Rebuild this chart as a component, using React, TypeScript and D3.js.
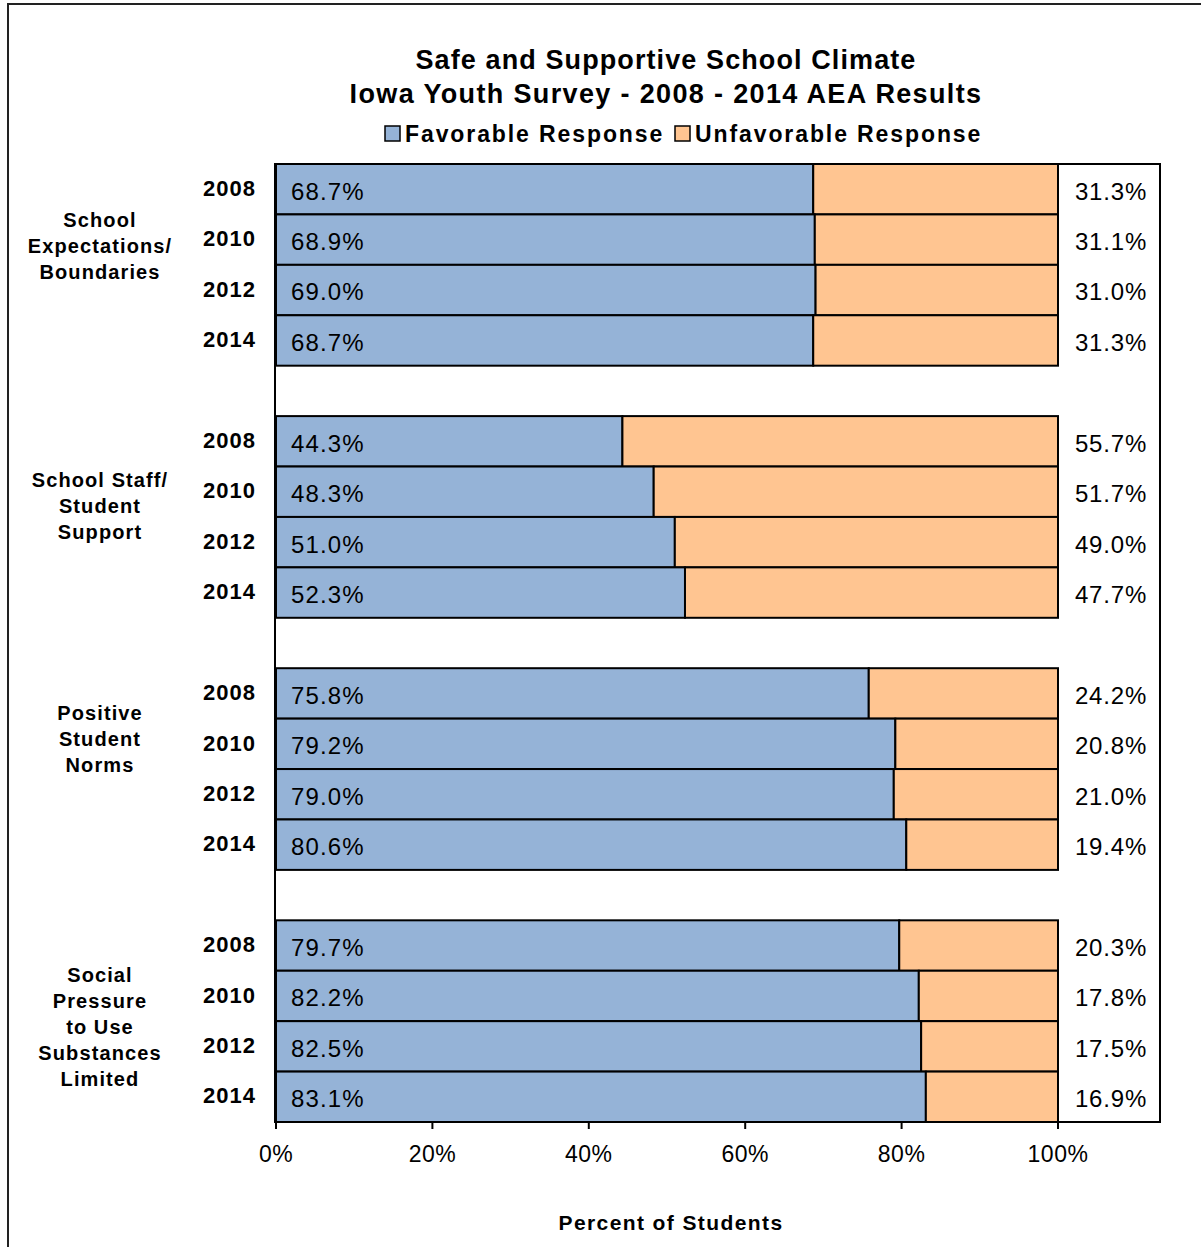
import React from "react";
import * as d3 from "d3";

const years = ["2008", "2010", "2012", "2014"];
const groupLabels = [
  ["School", "Expectations/", "Boundaries"],
  ["School Staff/", "Student", "Support"],
  ["Positive", "Student", "Norms"],
  ["Social", "Pressure", "to Use", "Substances", "Limited"],
];
const favorable = [
  [68.7, 68.9, 69.0, 68.7],
  [44.3, 48.3, 51.0, 52.3],
  [75.8, 79.2, 79.0, 80.6],
  [79.7, 82.2, 82.5, 83.1],
];
const unfavorable = [
  [31.3, 31.1, 31.0, 31.3],
  [55.7, 51.7, 49.0, 47.7],
  [24.2, 20.8, 21.0, 19.4],
  [20.3, 17.8, 17.5, 16.9],
];
const xTicks = [0, 20, 40, 60, 80, 100];
const labelOffsets = [31, 39, 20, 29];

const BLUE = "#95B3D7";
const ORANGE = "#FFC591";
const FONT = "'Liberation Sans', Arial, sans-serif";

export default function App() {
  const W = 1201, H = 1247;
  const plotL = 275, plotR = 1160, plotT = 164, plotB = 1122;
  const x = d3.scaleLinear().domain([0, 100]).range([276, 1058]);
  const slots: string[] = [];
  favorable.forEach((g, gi) => {
    years.forEach((y) => slots.push(`${gi}-${y}`));
    if (gi < favorable.length - 1) slots.push(`gap-${gi}`);
  });
  const yScale = d3.scaleBand<string>().domain(slots).range([plotT, plotB]).padding(0);
  const bw = yScale.bandwidth();

  return (
    <svg width={W} height={H} style={{ position: "absolute", left: 0, top: 0, fontFamily: FONT }}>
      <rect x={0} y={0} width={W} height={H} fill="#fff" />
      <rect x={8} y={4} width={W + 20} height={H + 20} fill="none" stroke="#222" strokeWidth={2} />
      <text x={666} y={69} textAnchor="middle" fontSize={27} fontWeight="bold" letterSpacing={1.1}>Safe and Supportive School Climate</text>
      <text x={666} y={103} textAnchor="middle" fontSize={27} fontWeight="bold" letterSpacing={1.35}>Iowa Youth Survey - 2008 - 2014 AEA Results</text>
      {/* legend */}
      <rect x={385} y={126} width={15} height={15} fill={BLUE} stroke="#000" strokeWidth={1.5} />
      <text x={405} y={142} fontSize={23} fontWeight="bold" letterSpacing={1.9}>Favorable Response</text>
      <rect x={675} y={126} width={15} height={15} fill={ORANGE} stroke="#000" strokeWidth={1.5} />
      <text x={695} y={142} fontSize={23} fontWeight="bold" letterSpacing={1.9}>Unfavorable Response</text>

      <rect x={plotL} y={plotT} width={plotR - plotL} height={plotB - plotT} fill="#fff" stroke="#000" strokeWidth={2} />

      {favorable.map((g, gi) =>
        g.map((v, yi) => {
          const key = `${gi}-${years[yi]}`;
          const y0 = yScale(key)!;
          const u = unfavorable[gi][yi];
          return (
            <g key={key}>
              <rect x={x(0)} y={y0} width={x(v) - x(0)} height={bw} fill={BLUE} stroke="#000" strokeWidth={2} />
              <rect x={x(v)} y={y0} width={x(v + u) - x(v)} height={bw} fill={ORANGE} stroke="#000" strokeWidth={2} />
              <text x={291} y={y0 + bw / 2 + 2} dy="0.35em" fontSize={24} letterSpacing={1.1}>{v.toFixed(1)}%</text>
              <text x={1111} y={y0 + bw / 2 + 2} dy="0.35em" fontSize={24} letterSpacing={0.8} textAnchor="middle">{u.toFixed(1)}%</text>
              <text x={256} y={y0 + bw / 2 - 1} dy="0.35em" fontSize={22} fontWeight="bold" letterSpacing={1} textAnchor="end">{years[yi]}</text>
            </g>
          );
        })
      )}

      {groupLabels.map((lines, gi) => {
        const first = yScale(`${gi}-${years[0]}`)! + bw / 2 + labelOffsets[gi];
        return (
          <text key={gi} x={100} fontSize={20} fontWeight="bold" letterSpacing={1.1} textAnchor="middle">
            {lines.map((l, li) => (
              <tspan key={li} x={100} y={first + li * 26} dy="0.35em">{l}</tspan>
            ))}
          </text>
        );
      })}

      {/* x axis ticks */}
      {xTicks.map((t) => (
        <g key={t}>
          <line x1={x(t)} x2={x(t)} y1={plotB} y2={plotB + 7} stroke="#000" strokeWidth={2} />
          <text x={x(t)} y={1162} textAnchor="middle" fontSize={23} letterSpacing={0.5}>{t}%</text>
        </g>
      ))}
      <text x={671} y={1230} textAnchor="middle" fontSize={21} fontWeight="bold" letterSpacing={1.4}>Percent of Students</text>
    </svg>
  );
}
